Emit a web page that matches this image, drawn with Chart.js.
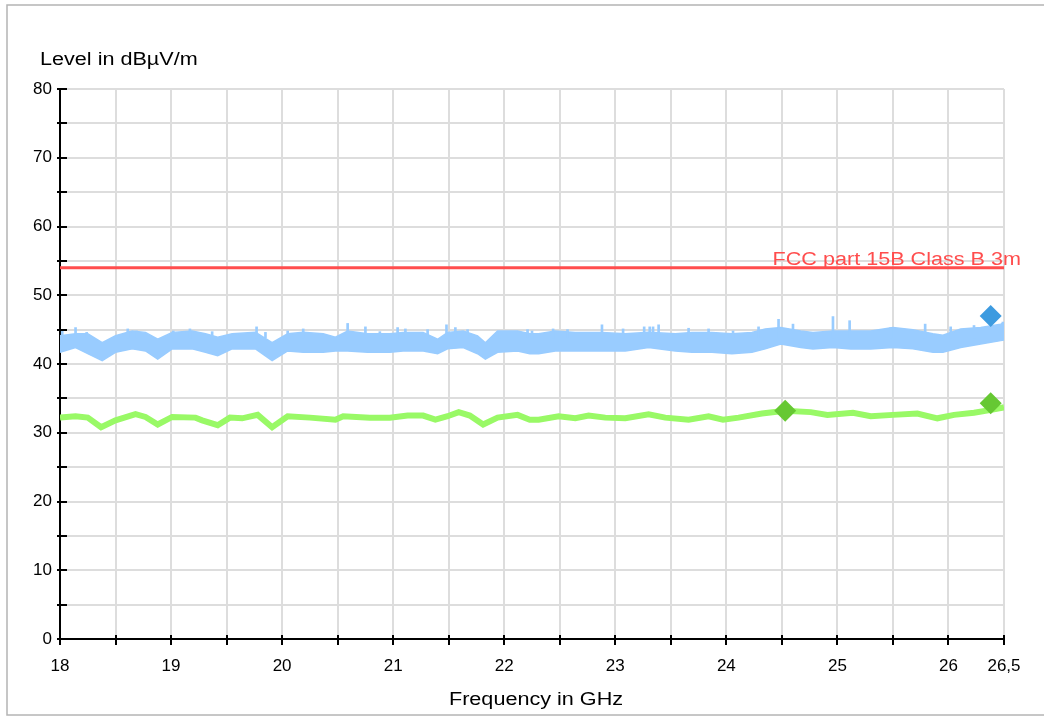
<!DOCTYPE html>
<html>
<head>
<meta charset="utf-8">
<script src="https://cdn.jsdelivr.net/npm/chart.js@4.4.0/dist/chart.umd.min.js"></script>
<style>
  html, body { margin: 0; padding: 0; background: #fff; }
  #wrap { width: 1044px; height: 716px; position: relative; }
</style>
</head>
<body>
<div id="wrap"><canvas id="chart" width="1044" height="716"></canvas></div>
<script>
// Peak trace (blue) - envelope, GHz / dBuV/m
const blueFreq = [18.0, 18.14, 18.25, 18.38, 18.5, 18.65, 18.77, 18.88, 19.01, 19.19, 19.31, 19.42, 19.55, 19.76, 19.91,
  20.05, 20.19, 20.37, 20.48, 20.59, 20.77, 20.97, 21.09, 21.27, 21.4, 21.49, 21.63, 21.76, 21.83, 21.94,
  22.12, 22.23, 22.31, 22.46, 22.64, 22.88, 23.09, 23.3, 23.54, 23.69, 23.87, 24.05, 24.23, 24.35, 24.49,
  24.67, 24.78, 24.96, 25.12, 25.3, 25.5, 25.68, 25.86, 25.95, 26.11, 26.29, 26.47, 26.5];
const blueUpper = [44.1, 44.4, 44.4, 43.1, 44.1, 44.8, 44.6, 43.6, 44.6, 44.8, 44.4, 43.9, 44.4, 44.6, 43.1,
  44.4, 44.6, 44.4, 43.9, 44.8, 44.4, 44.4, 44.6, 44.6, 43.6, 44.6, 44.8, 44.1, 43.1, 44.8,
  44.8, 44.4, 44.4, 44.8, 44.6, 44.6, 44.4, 44.6, 44.4, 44.6, 44.6, 44.4, 44.6, 45.1, 45.3,
  44.8, 44.6, 44.8, 44.8, 44.8, 45.3, 45.0, 44.4, 44.2, 45.1, 45.3, 45.8, 46.0];
const blueLower = [41.7, 42.4, 41.5, 40.5, 41.7, 42.2, 41.9, 40.7, 42.2, 42.2, 41.7, 41.2, 42.2, 42.2, 40.5,
  41.9, 41.7, 41.7, 41.9, 41.9, 41.7, 41.7, 41.9, 41.9, 41.5, 42.2, 42.4, 41.5, 40.7, 41.7,
  41.9, 41.5, 41.5, 41.9, 41.9, 41.9, 41.9, 42.4, 41.9, 41.7, 41.7, 41.5, 41.7, 42.2, 42.9,
  42.4, 42.2, 42.4, 42.2, 42.2, 42.4, 42.2, 41.7, 41.7, 42.4, 42.9, 43.4, 43.5];
// single spikes sticking out of the blue band
const spikeFreq = [18.02, 18.14, 18.24, 18.61, 18.69, 19.02, 19.17, 19.37, 19.77, 19.85, 20.05,
  20.19, 20.59, 20.75, 20.88, 21.04, 21.11, 21.31, 21.48, 21.56, 21.67, 21.96, 22.21,
  22.25, 22.44, 22.57, 22.88, 23.07, 23.26, 23.31, 23.34, 23.39, 23.66, 23.84, 24.06, 24.29,
  24.47, 24.6, 24.96, 25.11, 25.48, 25.79, 26.02, 26.23, 26.49];
const spikeTop = [44.8, 45.3, 44.6, 45.1, 44.8, 44.8, 45.1, 44.7, 45.4, 44.6, 44.8,
  45.1, 45.9, 45.4, 44.7, 45.3, 45.1, 45.0, 45.7, 45.3, 45.0, 44.7, 45.0,
  44.8, 45.1, 45.0, 45.7, 45.1, 45.4, 45.4, 45.4, 45.7, 45.2, 45.1, 44.8, 45.4,
  46.5, 45.8, 46.9, 46.3, 45.3, 45.8, 45.4, 45.6, 46.1];
const spikeBase = 43.8;

// Average trace (green)
const greenFreq = [18.0, 18.14, 18.25, 18.37, 18.5, 18.68, 18.77, 18.88, 19.01, 19.22, 19.28, 19.42, 19.53, 19.64, 19.78,
  19.91, 20.05, 20.25, 20.48, 20.55, 20.79, 20.97, 21.13, 21.27, 21.38, 21.49, 21.59, 21.69, 21.81, 21.94,
  22.12, 22.23, 22.31, 22.49, 22.64, 22.76, 22.91, 23.09, 23.3, 23.45, 23.66, 23.84, 23.97, 24.11, 24.32,
  24.53, 24.76, 24.91, 25.14, 25.3, 25.5, 25.72, 25.9, 26.05, 26.23, 26.41, 26.5];
const greenLevel = [32.2, 32.4, 32.2, 30.8, 31.8, 32.7, 32.3, 31.2, 32.3, 32.2, 31.8, 31.1, 32.2, 32.1, 32.6,
  30.8, 32.4, 32.2, 31.9, 32.4, 32.2, 32.2, 32.5, 32.5, 31.9, 32.4, 33.0, 32.5, 31.2, 32.2,
  32.6, 31.9, 31.9, 32.4, 32.1, 32.5, 32.2, 32.1, 32.7, 32.2, 31.9, 32.4, 31.9, 32.2, 32.8,
  33.2, 33.0, 32.6, 32.9, 32.4, 32.6, 32.8, 32.1, 32.6, 32.9, 33.4, 33.7];

// Final measurement markers
const peakMarkFreq = [26.38];
const peakMarkLevel = [47.0];
const avgMarkFreq = [24.53, 26.38];
const avgMarkLevel = [33.2, 34.3];

// Limit line
const limitLevel = 54;
const limitLabel = 'FCC part 15B Class B 3m';

// Axes
const xMin = 18, xMax = 26.5;
const yMin = 0, yMax = 80;
const xLabelValues = [18, 19, 20, 21, 22, 23, 24, 25, 26, 26.5];
const xLabelTexts = ['18', '19', '20', '21', '22', '23', '24', '25', '26', '26,5'];
const yLabelValues = [0, 10, 20, 30, 40, 50, 60, 70, 80];

const FONT = "'Liberation Sans', Arial, sans-serif";
const STRETCH = 1.2;  // titles in the reference are drawn wide

const zip = (xs, ys) => xs.map((x, i) => ({ x: x, y: ys[i] }));

function wideText(ctx, text, x, y, align) {
  const w = ctx.measureText(text).width * STRETCH;
  let left = x;
  if (align === 'center') left = x - w / 2;
  if (align === 'right') left = x - w;
  ctx.save();
  ctx.translate(left, y);
  ctx.scale(STRETCH, 1);
  ctx.textAlign = 'left';
  ctx.fillText(text, 0, 0);
  ctx.restore();
}

// frame, labels, titles, limit text, tick marks crossing the axes
const decorations = {
  id: 'decorations',
  beforeDraw(chart) {
    const ctx = chart.ctx;
    ctx.save();
    ctx.strokeStyle = '#b4b4b4';
    ctx.lineWidth = 1.5;
    ctx.strokeRect(7, 5, 1060, 710);
    ctx.restore();
  },
  afterDatasetsDraw(chart) {
    const ctx = chart.ctx;
    const xs = chart.scales.x, ys = chart.scales.y;
    const area = chart.chartArea;
    ctx.save();
    ctx.strokeStyle = '#000';
    ctx.lineWidth = 2;
    ys.ticks.forEach(t => {
      const py = Math.round(ys.getPixelForValue(t.value));
      ctx.beginPath();
      ctx.moveTo(area.left - 3, py);
      ctx.lineTo(area.left + 7, py);
      ctx.stroke();
    });
    xs.ticks.forEach(t => {
      const px = Math.round(xs.getPixelForValue(t.value));
      ctx.beginPath();
      ctx.moveTo(px, area.bottom - 4);
      ctx.lineTo(px, area.bottom + 6);
      ctx.stroke();
    });

    ctx.fillStyle = '#000';
    ctx.font = '17px ' + FONT;
    ctx.textBaseline = 'middle';
    ctx.textAlign = 'right';
    yLabelValues.forEach(v => ctx.fillText(String(v), area.left - 8, ys.getPixelForValue(v)));
    ctx.textAlign = 'center';
    xLabelValues.forEach((v, i) => ctx.fillText(xLabelTexts[i], xs.getPixelForValue(v), 666));

    ctx.font = '18px ' + FONT;
    wideText(ctx, 'Level in dBµV/m', 40, 60, 'left');
    wideText(ctx, 'Frequency in GHz', (area.left + area.right) / 2 + 4, 700, 'center');

    ctx.fillStyle = '#ff4d4d';
    ctx.textBaseline = 'alphabetic';
    wideText(ctx, limitLabel, 1021, ys.getPixelForValue(limitLevel) - 3, 'right');
    ctx.restore();
  }
};

new Chart(document.getElementById('chart'), {
  type: 'line',
  data: {
    datasets: [
      {
        label: 'Peak markers',
        data: zip(peakMarkFreq, peakMarkLevel),
        showLine: false,
        pointStyle: 'rectRot',
        pointRadius: 11,
        backgroundColor: '#3d9be0',
        borderColor: '#3d9be0',
        borderWidth: 0,
        order: 0
      },
      {
        label: 'Average markers',
        data: zip(avgMarkFreq, avgMarkLevel),
        showLine: false,
        pointStyle: 'rectRot',
        pointRadius: 11,
        backgroundColor: '#66c833',
        borderColor: '#66c833',
        borderWidth: 0,
        order: 0
      },
      {
        label: limitLabel,
        data: [{ x: xMin, y: limitLevel }, { x: xMax, y: limitLevel }],
        borderColor: '#ff4d4d',
        borderWidth: 3,
        pointRadius: 0,
        order: 1
      },
      {
        label: 'Average',
        data: zip(greenFreq, greenLevel),
        borderColor: '#99f966',
        borderWidth: 6,
        pointRadius: 0,
        tension: 0,
        order: 2
      },
      {
        type: 'bar',
        label: 'Peak spikes',
        data: spikeFreq.map((f, i) => ({ x: f, y: [spikeBase, spikeTop[i]] })),
        backgroundColor: '#99ccff',
        barThickness: 2,
        order: 3
      },
      {
        label: 'Peak upper',
        data: zip(blueFreq, blueUpper),
        borderColor: '#99ccff',
        backgroundColor: '#99ccff',
        borderWidth: 1.5,
        pointRadius: 0,
        fill: '+1',
        order: 4
      },
      {
        label: 'Peak lower',
        data: zip(blueFreq, blueLower),
        borderColor: '#99ccff',
        borderWidth: 1.5,
        pointRadius: 0,
        fill: false,
        order: 5
      }
    ]
  },
  options: {
    responsive: false,
    animation: false,
    events: [],
    layout: { padding: { left: 0, top: 89, right: 40, bottom: 0 } },
    plugins: {
      legend: { display: false },
      tooltip: { enabled: false }
    },
    scales: {
      x: {
        type: 'linear',
        min: xMin,
        max: xMax,
        offset: false,
        grid: { color: '#dddddd', lineWidth: 2, drawTicks: false, offset: false },
        border: { color: '#000', width: 2 },
        ticks: { stepSize: 0.5, autoSkip: false, maxRotation: 0, display: false },
        afterFit: s => { s.height = 77; }
      },
      y: {
        min: yMin,
        max: yMax,
        grid: { color: '#dddddd', lineWidth: 2, drawTicks: false },
        border: { color: '#000', width: 2 },
        ticks: { stepSize: 5, display: false },
        afterFit: s => { s.width = 60; }
      }
    }
  },
  plugins: [decorations]
});
</script>
</body>
</html>
